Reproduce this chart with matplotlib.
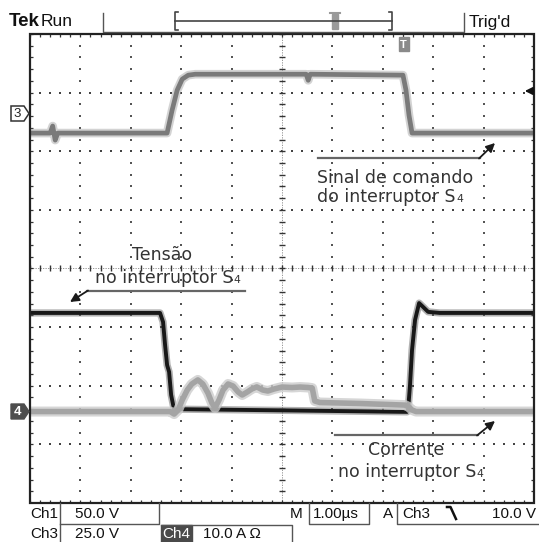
import numpy as np
import matplotlib
matplotlib.use("Agg")
import matplotlib.pyplot as plt
from matplotlib.patches import Polygon, Rectangle

W, H = 539, 542

# ---------------- data ----------------
n_hdiv, n_vdiv = 10, 8          # graticule divisions (1 µs/div horizontally)

# Ch3 : command signal of S4  (25 V/div, ground marker at +2.65 div)
ch3_scale, ch3_pos = 25.0, 2.65
ch3_t = [0.0, 0.40, 0.45, 0.50, 0.55, 2.72, 2.82, 2.92, 3.02, 3.14, 3.28,
         5.48, 5.52, 5.56, 7.40, 7.46, 7.52, 7.58, 10.0]
ch3_v = [-8.5, -8.5, -5.5, -11.5, -8.5, -8.5, 1.3, 9.8, 14.5, 16.2, 16.6,
         16.6, 14.0, 16.6, 16.2, 9.8, -0.9, -8.5, -8.5]

# Ch1 : voltage across S4  (50 V/div)
ch1_scale, ch1_pos = 50.0, -2.43
ch1_t = [0.0, 2.58, 2.64, 2.68, 2.72, 2.76, 2.80, 2.86, 3.0, 5.0, 7.48,
         7.50, 7.54, 7.58, 7.64, 7.72, 7.80, 7.90, 8.13, 10.0]
ch1_v = [83.6, 83.6, 75.9, 56.3, 39.2, 33.3, 13.7, 0.9, 1.5, 0.5, -0.8,
         0.0, 22.2, 52.0, 77.6, 92.0, 88.7, 84.5, 83.6, 83.6]

# Ch4 : current through S4  (10 A/div)
ch4_scale, ch4_pos = 10.0, -2.44
ch4_t = [0.0, 2.78, 2.86, 2.94, 3.02, 3.12, 3.21, 3.33, 3.43, 3.53, 3.61,
         3.67, 3.75, 3.83, 3.93, 4.03, 4.13, 4.21, 4.31, 4.40, 4.50, 4.62,
         4.72, 4.84, 5.00, 5.20, 5.36, 5.52, 5.60, 5.65, 5.75, 6.55, 7.44,
         7.52, 7.58, 7.66, 10.0]
ch4_i = [0.0, 0.0, -0.43, 0.26, 1.96, 3.67, 4.69, 5.4, 4.69, 3.16, 1.45,
         0.6, 1.96, 3.67, 4.7, 4.35, 3.33, 2.82, 3.33, 3.84, 4.2, 3.67,
         3.5, 3.84, 4.18, 4.1, 4.18, 4.1, 4.0, 1.8, 1.54, 1.37, 1.1,
         0.77, 0.26, 0.0, 0.0]

# screen texts
top_left = ["Tek", "Run"]
top_right = "Trig'd"
row1 = ["Ch1", "50.0 V", "M", "1.00µs", "A", "Ch3", "10.0 V"]
row2 = ["Ch3", "25.0 V", "Ch4", "10.0 A Ω"]
ann_cmd = ["Sinal de comando", "do interruptor S"]
ann_volt = ["Tensão", "no interruptor S"]
ann_curr = ["Corrente", "no interruptor S"]
sub_label = "4"

# ---------------- figure ----------------
fig = plt.figure(figsize=(W / 100, H / 100), dpi=100)
fig.patch.set_facecolor("white")

x0, x1, y0, y1 = 30, 534, 34, 503          # graticule frame in pixels
ax = fig.add_axes([x0 / W, 1 - y1 / H, (x1 - x0) / W, (y1 - y0) / H])
ax.set_xlim(0, n_hdiv)
ax.set_ylim(-n_vdiv / 2, n_vdiv / 2)
ax.axis("off")
ax.set_zorder(2)

ov = fig.add_axes([0, 0, 1, 1])
ov.set_xlim(0, W)
ov.set_ylim(H, 0)
ov.axis("off")
ov.patch.set_visible(False)
ov.set_zorder(3)

# ----- graticule -----
gc = "#555555"
mx = np.arange(0, n_hdiv + 0.001, 0.2)
my = np.arange(-n_vdiv / 2, n_vdiv / 2 + 0.001, 0.2)
for i in range(1, n_hdiv):
    if i == 5:
        continue
    ax.scatter(np.full_like(my, i), my, s=1.6, c=gc, marker="s", lw=0, zorder=1)
for j in range(-3, 4):
    if j == 0:
        continue
    ax.scatter(mx, np.full_like(mx, j), s=1.8, c="#444444", marker="s", lw=0, zorder=1)
# center axes
ax.plot([0, n_hdiv], [0, 0], color="#888888", lw=0.6, ls=(0, (1.5, 1.5)), zorder=1)
ax.plot([5, 5], [-4, 4], color="#888888", lw=0.6, ls=(0, (1.5, 1.5)), zorder=1)
ax.plot(mx, np.zeros_like(mx), ls="", marker="|", ms=4.5, mew=1.0, color="#333333", zorder=1)
ax.plot(np.full_like(my, 5), my, ls="", marker="_", ms=5, mew=1.0, color="#333333", zorder=1)
# edge ticks
ax.vlines(mx, 4 - 0.055, 4, color="#333333", lw=0.9)
ax.vlines(mx, -4, -4 + 0.055, color="#333333", lw=0.9)
ax.hlines(my, 0, 0.06, color="#333333", lw=0.9)
ax.hlines(my, n_hdiv - 0.06, n_hdiv, color="#333333", lw=0.9)
ax.add_patch(Rectangle((0, -4), n_hdiv, n_vdiv, fill=False, ec="#222222", lw=1.6,
                       clip_on=False, zorder=6))


def div(vals, pos, scale):
    return pos + np.asarray(vals) / scale


# ----- traces (persistence bands) -----
y3 = div(ch3_v, ch3_pos, ch3_scale)
ax.plot(ch3_t, y3, color="#a8a8a8", lw=6.2, alpha=0.5, zorder=3, solid_joinstyle="round")
ax.plot(ch3_t, y3, color="#7a7a7a", lw=3.4, zorder=3, solid_joinstyle="round")

y1v = div(ch1_v, ch1_pos, ch1_scale)
ax.plot(ch1_t, y1v, color="#555555", lw=5.2, alpha=0.45, zorder=4, solid_joinstyle="round")
ax.plot(ch1_t, y1v, color="#181818", lw=2.8, zorder=4, solid_joinstyle="round")

y4 = div(ch4_i, ch4_pos, ch4_scale)
ax.plot(ch4_t, y4, color="#cccccc", lw=7.2, alpha=0.8, zorder=5, solid_joinstyle="round")
ax.plot(ch4_t, y4, color="#a4a4a4", lw=4.0, zorder=5, solid_joinstyle="round")

# ----- status bar (top) -----
sf = "Liberation Sans"
ov.text(9, 22, top_left[0], fontsize=13.5, fontweight="bold", family=sf,
        ha="left", va="center", color="#111111")
ov.text(41, 22, top_left[1], fontsize=12.5, family=sf, ha="left", va="center", color="#111111")
ov.text(469, 22, top_right, fontsize=12.5, family=sf, ha="left", va="center", color="#111111")
lc = "#555555"
ov.plot([103, 103, 464, 464], [13, 32, 32, 13], color=lc, lw=1.0)
ov.plot([175, 392], [21, 21], color="#444444", lw=1.2)
ov.plot([178, 175, 175, 178], [12, 12, 30, 30], color="#444444", lw=1.2)
ov.plot([389, 392, 392, 389], [12, 12, 30, 30], color="#444444", lw=1.2)
ov.add_patch(Rectangle((332, 14), 6, 15, color="#9a9a9a"))
ov.plot([330, 340], [13, 13], color="#9a9a9a", lw=1.5)
# trigger position marker
ov.add_patch(Rectangle((398.5, 37), 10, 14, color="#8a8a8a", zorder=8))
ov.text(403.5, 44.5, "T", fontsize=8, fontweight="bold", color="white", ha="center",
        va="center", family=sf, zorder=9)
# trigger level arrow (right edge)
ov.annotate("", xy=(522, 91), xytext=(536, 91),
            arrowprops=dict(arrowstyle="-|>", color="#111111", lw=1.4, mutation_scale=11))

# channel markers
ov.add_patch(Polygon([(11, 106), (24, 106), (29, 113.5), (24, 121), (11, 121)],
                     closed=True, fc="white", ec="#333333", lw=1.1))
ov.text(17, 114, "3", fontsize=9.5, family=sf, ha="center", va="center", color="#222222")
ov.add_patch(Polygon([(11, 404), (24, 404), (29, 411.5), (24, 419), (11, 419)],
                     closed=True, fc="#4d4d4d", ec="#4d4d4d", lw=1.0))
ov.text(17, 412, "4", fontsize=9.5, fontweight="bold", family=sf, ha="center",
        va="center", color="white")

# ----- bottom status -----
fs = 11
tc = "#111111"
yr1, yr2 = 514, 534
ov.text(30, yr1, row1[0], fontsize=fs, family=sf, ha="left", va="center", color=tc)
ov.text(75, yr1, row1[1], fontsize=fs, family=sf, ha="left", va="center", color=tc)
ov.text(290, yr1, row1[2], fontsize=fs, family=sf, ha="left", va="center", color=tc)
ov.text(313, yr1, row1[3], fontsize=fs, family=sf, ha="left", va="center", color=tc)
ov.text(383, yr1, row1[4], fontsize=fs, family=sf, ha="left", va="center", color=tc)
ov.text(402, yr1, row1[5], fontsize=fs, family=sf, ha="left", va="center", color=tc)
ov.text(536, yr1, row1[6], fontsize=fs, family=sf, ha="right", va="center", color=tc)
ov.plot([447, 450.5, 456], [507, 507, 519], color=tc, lw=1.8)

ov.text(30, yr2, row2[0], fontsize=fs, family=sf, ha="left", va="center", color=tc)
ov.text(75, yr2, row2[1], fontsize=fs, family=sf, ha="left", va="center", color=tc)
ov.add_patch(Rectangle((161, 525), 31, 17, color="#4a4a4a"))
ov.text(176.5, yr2, row2[2], fontsize=fs, family=sf, ha="center", va="center", color="white")
ov.text(203, yr2, row2[3], fontsize=fs, family=sf, ha="left", va="center", color=tc)

ov.plot([60, 60], [503, 542], color=lc, lw=1.0)
ov.plot([60, 159, 159], [524, 524, 503], color=lc, lw=1.0)
ov.plot([309, 309, 369, 369], [503, 524, 524, 503], color=lc, lw=1.0)
ov.plot([397, 397, 539], [503, 524, 524], color=lc, lw=1.0)
ov.plot([161, 292, 292], [524.5, 524.5, 542], color=lc, lw=1.0)

# ----- annotations -----
af = "DejaVu Sans"
ac = "#333333"
afs = 12.5


def label_with_sub(x, y, text):
    t = ov.text(x, y, text, fontsize=afs, family=af, color=ac, ha="left", va="baseline")
    fig.canvas.draw()
    bb = t.get_window_extent()
    xe = ov.transData.inverted().transform((bb.x1, bb.y0))[0]
    ov.text(xe + 0.5, y, sub_label, fontsize=afs * 0.62, family=af, color=ac,
            ha="left", va="baseline")


ov.text(317, 183, ann_cmd[0], fontsize=afs, family=af, color=ac, ha="left", va="baseline")
label_with_sub(317, 202, ann_cmd[1])
ov.text(132, 260, ann_volt[0], fontsize=afs, family=af, color=ac, ha="left", va="baseline")
label_with_sub(95, 283, ann_volt[1])
ov.text(368, 455, ann_curr[0], fontsize=afs, family=af, color=ac, ha="left", va="baseline")
label_with_sub(338, 477, ann_curr[1])

shaft = "#666666"
ov.plot([318, 480], [158, 158], color=shaft, lw=1.6)
ov.annotate("", xy=(495, 143), xytext=(479, 158.5),
            arrowprops=dict(arrowstyle="-|>", color="#1a1a1a", lw=1.3, mutation_scale=13,
                            shrinkA=0, shrinkB=0))
ov.plot([245, 87], [291, 291], color=shaft, lw=1.6)
ov.annotate("", xy=(70, 302), xytext=(88, 290.5),
            arrowprops=dict(arrowstyle="-|>", color="#1a1a1a", lw=1.3, mutation_scale=13,
                            shrinkA=0, shrinkB=0))
ov.plot([335, 478], [435, 435], color=shaft, lw=1.6)
ov.annotate("", xy=(495, 421), xytext=(477, 435.5),
            arrowprops=dict(arrowstyle="-|>", color="#1a1a1a", lw=1.3, mutation_scale=13,
                            shrinkA=0, shrinkB=0))

fig.savefig("out.png", dpi=100, facecolor="white")
